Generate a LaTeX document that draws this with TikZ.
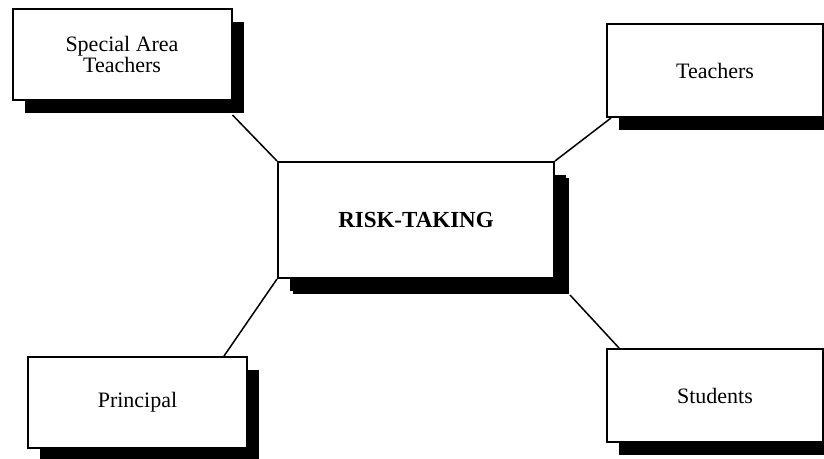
\documentclass[tikz,border=0pt]{standalone}
\usepackage{fontspec}
\setmainfont{Liberation Serif}
\usetikzlibrary{shadows}
\begin{document}
\begin{tikzpicture}[x=0.5pt, y=-0.5pt,
    box/.style={draw, line width=1pt, fill=white, align=center,
        font=\fontsize{11}{9.5}\selectfont,
        drop shadow={shadow xshift=6pt, shadow yshift=-6.5pt, fill=black, opacity=1}},
    link/.style={line width=0.75pt}]
    \useasboundingbox (0,0) rectangle (824,459);
    \begin{scope}
    \clip (0,0) rectangle (824,459);

    % Central box
    \node[box, minimum width=138pt, minimum height=58pt, font=\fontsize{11.5}{13}\selectfont\bfseries,
        drop shadow={shadow xshift=7.5pt, shadow yshift=-8pt, fill=black, opacity=1}]
        (risk) at (416,220) {RISK-TAKING};

    % Surrounding groups
    \node[box, minimum width=109.5pt, minimum height=45.5pt] (spec) at (122,54.5) {Special Area\\Teachers};
    \node[box, minimum width=108pt, minimum height=46.5pt] (teach) at (715,70.5) {Teachers};
    \node[box, minimum width=109.5pt, minimum height=45.5pt] (prin) at (137.5,402.5) {Principal};
    \node[box, minimum width=108pt, minimum height=46.5pt] (stud) at (715,395.5) {Students};

    % Connectors
    \draw[link] ([shift={(0,14)}]spec.south east) -- (risk.north west);
    \draw[link] ([shift={(5,0)}]teach.south west) -- (risk.north east);
    \draw[link] ([shift={(-24,0)}]prin.north east) -- (risk.south west);
    \draw[link] ([shift={(15,16)}]risk.south east) -- ([shift={(13,0)}]stud.north west);
    \end{scope}
\end{tikzpicture}
\end{document}
